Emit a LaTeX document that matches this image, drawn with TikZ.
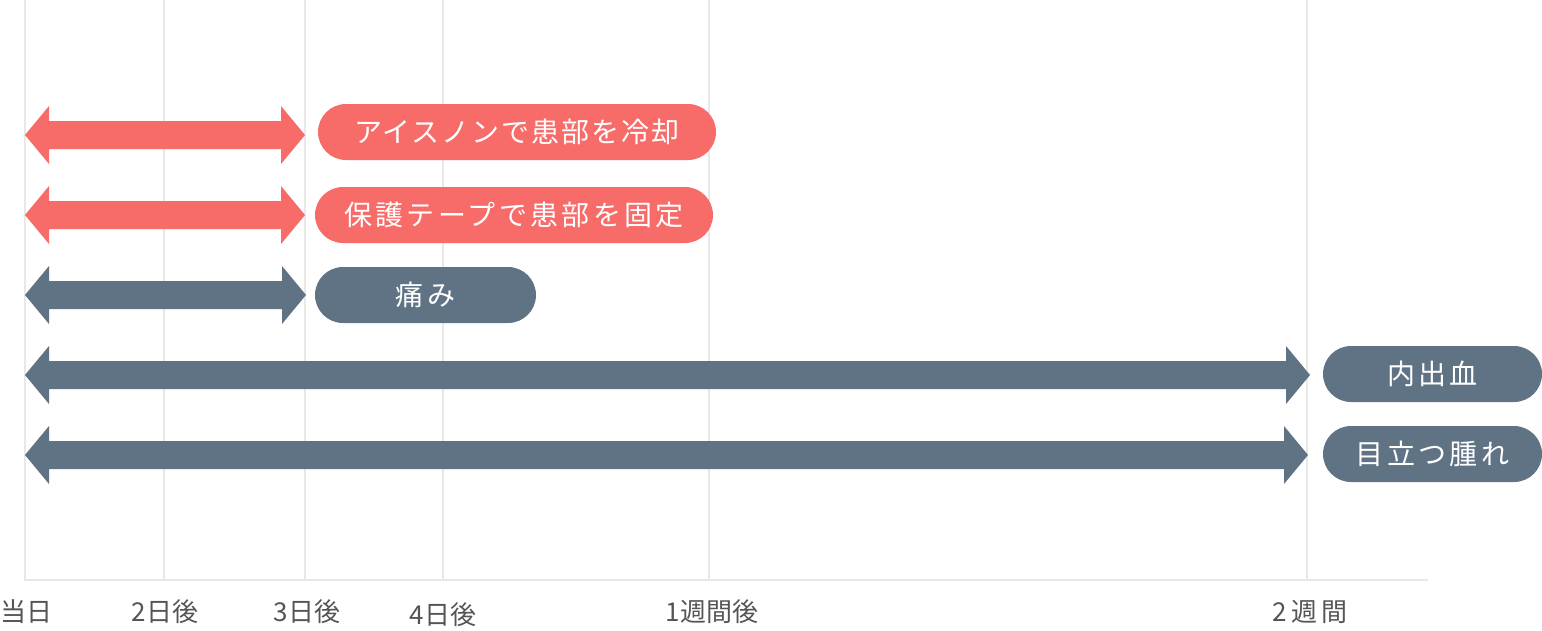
\documentclass[tikz,border=0pt]{standalone}
\usepackage{fontspec}
\newfontfamily\jp{Noto Sans CJK JP}
\newfontfamily\jpls[LetterSpace=12]{Noto Sans CJK JP}
\newfontfamily\jplsa[LetterSpace=7]{Noto Sans CJK JP}
\definecolor{redc}{HTML}{F76B69}
\definecolor{slate}{HTML}{607385}
\definecolor{gridc}{HTML}{E8E8E8}
\definecolor{labc}{HTML}{555555}
\newcommand{\dblarr}[4]{% y, xleft, xright, color
  \fill[#4] (#2,#1) -- (#2+24,#1-29) -- (#2+24,#1-14) -- (#3-24,#1-14) -- (#3-24,#1-29)
    -- (#3,#1) -- (#3-24,#1+29) -- (#3-24,#1+14) -- (#2+24,#1+14) -- (#2+24,#1+29) -- cycle;}
\begin{document}
\begin{tikzpicture}[x=1pt,y=-1pt,
  gridline/.style={draw=gridc,line width=2.2pt},
  pill/.style={rounded corners=28pt,inner sep=0pt,text=white,font=\jpls\fontsize{28}{32}\selectfont,minimum height=56pt},
  axlab/.style={text=labc,font=\jp\fontsize{26}{30}\selectfont,inner sep=0pt}]
\useasboundingbox[fill=white] (0,0) rectangle (1542,630);
% grid
\foreach \x in {164,305,443,709,1307} \draw[gridline] (\x,0) -- (\x,580);
\draw[gridline] (25,0) -- (25,580);
\draw[gridline] (24,580) -- (1428,580);
% arrows
\dblarr{135}{25}{305}{redc}
\dblarr{215}{25}{305}{redc}
\dblarr{295}{25}{306}{slate}
\dblarr{375}{25}{1310}{slate}
\dblarr{455}{25}{1308}{slate}
% pills
\node[pill,fill=redc,minimum width=398pt,font=\jplsa\fontsize{28}{32}\selectfont] (p1) at (517,132) {アイスノンで患部を冷却};
\node[pill,fill=redc,minimum width=398pt] (p2) at (514,215) {保護テープで患部を固定};
\node[pill,fill=slate,minimum width=221pt] (p3) at (425.5,295) {痛み};
\node[pill,fill=slate,minimum width=219pt] (p4) at (1432.5,374) {内出血};
\node[pill,fill=slate,minimum width=219pt] (p5) at (1432.5,454) {目立つ腫れ};
% axis labels
\node[axlab] (l0) at (27,612) {当日};
\node[axlab] (l1) at (165,612) {2日後};
\node[axlab] (l2) at (307,612) {3日後};
\node[axlab] (l3) at (443,615) {4日後};
\node[axlab] (l4) at (712,612) {1週間後};
\node[axlab] (l5) at (1310,612) {2\,週\,間};
\end{tikzpicture}
\end{document}
